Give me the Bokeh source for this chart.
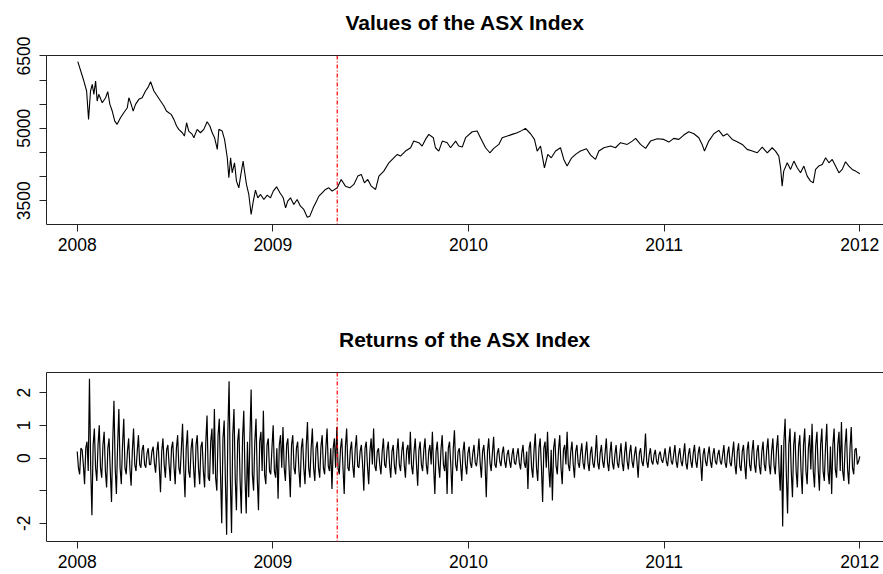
import numpy as np
from bokeh.plotting import figure
from bokeh.models import FixedTicker, Span, LinearAxis, Range1d
from bokeh.layouts import column
from bokeh.embed import file_html
from bokeh.resources import INLINE

# ---------------- data ----------------
value_years = [
    2008.003, 2008.034, 2008.048, 2008.058, 2008.068, 2008.077, 2008.085, 2008.094, 2008.102, 2008.110,
    2008.128, 2008.145, 2008.156, 2008.167, 2008.179, 2008.192, 2008.204, 2008.221, 2008.238, 2008.256,
    2008.264, 2008.276, 2008.286, 2008.298, 2008.315, 2008.332, 2008.349, 2008.361, 2008.375, 2008.392,
    2008.409, 2008.426, 2008.443, 2008.456, 2008.468, 2008.480, 2008.494, 2008.508, 2008.519, 2008.537,
    2008.548, 2008.559, 2008.570, 2008.588, 2008.596, 2008.613, 2008.630, 2008.647, 2008.664, 2008.678,
    2008.690, 2008.702, 2008.716, 2008.724, 2008.741, 2008.753, 2008.767, 2008.775, 2008.784, 2008.792,
    2008.804, 2008.814, 2008.826, 2008.835, 2008.848, 2008.855, 2008.865, 2008.877, 2008.889, 2008.900,
    2008.911, 2008.923, 2008.937, 2008.954, 2008.971, 2008.988, 2009.002, 2009.019, 2009.036, 2009.053,
    2009.065, 2009.076, 2009.090, 2009.107, 2009.124, 2009.141, 2009.158, 2009.176, 2009.189, 2009.206,
    2009.223, 2009.235, 2009.252, 2009.269, 2009.286, 2009.303, 2009.329, 2009.349, 2009.371, 2009.393,
    2009.414, 2009.434, 2009.452, 2009.468, 2009.485, 2009.503, 2009.525, 2009.542, 2009.567, 2009.593,
    2009.618, 2009.636, 2009.652, 2009.678, 2009.704, 2009.720, 2009.746, 2009.763, 2009.780, 2009.797,
    2009.820, 2009.831, 2009.848, 2009.866, 2009.891, 2009.908, 2009.934, 2009.950, 2009.968, 2009.985,
    2010.019, 2010.044, 2010.061, 2010.087, 2010.109, 2010.129, 2010.155, 2010.172, 2010.198, 2010.223,
    2010.249, 2010.274, 2010.291, 2010.317, 2010.337, 2010.351, 2010.368, 2010.388, 2010.405, 2010.423,
    2010.445, 2010.470, 2010.487, 2010.504, 2010.525, 2010.547, 2010.572, 2010.603, 2010.624, 2010.649,
    2010.666, 2010.692, 2010.726, 2010.751, 2010.777, 2010.811, 2010.837, 2010.854, 2010.879, 2010.905,
    2010.930, 2010.965, 2010.998, 2011.024, 2011.049, 2011.075, 2011.100, 2011.126, 2011.152, 2011.177,
    2011.194, 2011.206, 2011.228, 2011.254, 2011.279, 2011.302, 2011.322, 2011.348, 2011.373, 2011.399,
    2011.424, 2011.450, 2011.476, 2011.501, 2011.527, 2011.552, 2011.569, 2011.586, 2011.595, 2011.603,
    2011.611, 2011.629, 2011.646, 2011.663, 2011.680, 2011.697, 2011.714, 2011.731, 2011.748, 2011.762,
    2011.774, 2011.790, 2011.808, 2011.825, 2011.842, 2011.859, 2011.876, 2011.893, 2011.910, 2011.927,
    2011.944, 2011.961, 2011.978, 2012.000,
]
value_levels = [
    6382, 5981, 5774, 5186, 5774, 5913, 5705, 5981, 5566, 5705,
    5531, 5635, 5760, 5498, 5359, 5151, 5083, 5220, 5324, 5428,
    5635, 5498, 5359, 5498, 5601, 5635, 5774, 5843, 5967, 5774,
    5670, 5566, 5463, 5359, 5324, 5290, 5186, 5048, 4979, 4909,
    4840, 5116, 4944, 4875, 4806, 4979, 4909, 4979, 5137, 5048,
    4909, 4806, 4564, 4979, 4944, 4771, 4390, 3975, 4390, 4079,
    4286, 3906, 3767, 4010, 4321, 4114, 3838, 3630, 3215, 3491,
    3720, 3560, 3630, 3526, 3616, 3560, 3699, 3788, 3664, 3560,
    3352, 3491, 3560, 3422, 3526, 3387, 3319, 3159, 3180, 3352,
    3491, 3595, 3664, 3733, 3767, 3699, 3767, 3941, 3802, 3767,
    3838, 4010, 4045, 3871, 3941, 3802, 3733, 4010, 4114, 4286,
    4390, 4460, 4425, 4529, 4598, 4736, 4702, 4633, 4771, 4875,
    4806, 4598, 4529, 4736, 4702, 4598, 4736, 4633, 4612, 4806,
    4930, 4944, 4806, 4598, 4494, 4585, 4667, 4806, 4840, 4875,
    4909, 4958, 4999, 4888, 4771, 4529, 4633, 4182, 4460, 4390,
    4529, 4598, 4356, 4218, 4377, 4460, 4529, 4577, 4446, 4356,
    4529, 4598, 4633, 4598, 4702, 4667, 4736, 4792, 4667, 4585,
    4736, 4785, 4771, 4715, 4792, 4771, 4861, 4930, 4888, 4806,
    4667, 4529, 4736, 4888, 4958, 4840, 4888, 4771, 4722, 4667,
    4564, 4529, 4494, 4612, 4494, 4598, 4529, 4425, 4182, 3802,
    4114, 4286, 4149, 4321, 4182, 4079, 4218, 4010, 3906, 3871,
    4149, 4218, 4252, 4390, 4286, 4356, 4218, 4079, 4149, 4307,
    4218, 4149, 4114, 4058,
]

# returns in time order, 8 observations per twentieth of a year (2008 -> 2012)
return_values = [
    0.2, -0.3, -0.5, 0.3, 0.25, -0.2, -0.8, 0.3,
    0.5, -0.4, 2.43, -0.3, -1.75, 0.4, 0.9, -0.3,
    -0.7, 0.4, 1.0, -0.3, -0.6, 0.4, 0.8, -0.4,
    -0.9, 0.3, 0.6, -0.4, -1.35, 0.5, 1.75, -0.3,
    -1.1, 0.4, 1.5, -0.3, -0.8, 0.4, 1.2, -0.3,
    -0.5, 0.2, 0.6, -0.3, -0.85, 0.2, 0.9, -0.2,
    -0.4, 0.2, 0.7, -0.2, -0.3, 0.25, 0.4, -0.2,
    -0.3, 0.15, 0.3, -0.2, -0.2, 0.2, 0.35, -0.15,
    -0.45, 0.2, 0.5, -0.25, -1.05, 0.2, 0.6, -0.2,
    -0.6, 0.25, 0.4, -0.2, -0.7, 0.3, 0.5, -0.25,
    -0.8, 0.3, 0.7, -0.3, -0.5, 0.25, 1.05, -0.3,
    -1.2, 0.3, 0.85, -0.4, -0.6, 0.3, 0.6, -0.3,
    -0.9, 0.4, 0.7, -0.3, -0.8, 0.35, 0.5, -0.4,
    -0.9, 0.5, 1.3, -0.6, -0.7, 0.5, 0.9, -0.5,
    1.5, -0.6, -1.0, 0.7, 1.2, -0.5, -2.0, 0.6,
    1.15, -0.7, -2.35, 0.8, 2.35, -0.6, -2.3, 0.7,
    1.5, -0.6, -1.6, 0.5, 0.9, -0.7, -1.7, 0.6,
    1.45, -0.6, -1.7, 0.5, -1.2, 0.6, 2.1, -0.5,
    -1.0, 0.5, 1.2, -0.6, -1.6, 0.5, 0.8, -0.4,
    1.45, -0.5, -0.8, 0.4, 0.6, -0.4, -0.5, 0.3,
    1.0, -0.4, -0.6, 0.3, -1.25, 0.4, 0.7, -0.3,
    0.95, -0.3, -0.7, 0.4, 0.6, -0.3, -1.2, 0.4,
    0.7, -0.3, -0.5, 0.3, 0.5, -0.35, -0.9, 0.3,
    0.6, -0.3, -0.8, 0.35, 1.1, -0.3, -0.6, 0.3,
    0.9, -0.3, -0.7, 0.3, 0.5, -0.3, -0.6, 0.35,
    0.7, -0.3, -0.5, 0.3, 0.9, -0.25, -0.4, 0.3,
    -0.95, 0.3, 0.6, -0.3, 0.95, -0.3, -0.5, 0.3,
    0.6, -0.3, -1.1, 0.35, 0.9, -0.3, -0.4, 0.25,
    0.5, -0.25, -0.6, 0.3, 0.7, -0.25, -0.3, 0.2,
    0.4, -0.2, -1.0, 0.3, 0.5, -0.25, -0.8, 0.2,
    0.6, -0.2, 0.9, -0.25, -0.4, 0.2, 0.3, -0.2,
    -0.5, 0.2, 0.6, -0.2, -0.3, 0.25, 0.5, -0.2,
    -0.6, 0.2, 0.4, -0.25, -0.5, 0.2, 0.6, -0.2,
    -0.4, 0.2, 0.5, -0.2, -0.6, 0.25, 0.4, -0.2,
    0.8, -0.25, -0.5, 0.2, 0.6, -0.2, -0.85, 0.25,
    0.5, -0.2, -0.4, 0.25, 0.6, -0.2, -0.5, 0.2,
    0.4, -0.2, 0.8, -0.25, -1.1, 0.2, 0.5, -0.2,
    -0.6, 0.25, 0.7, -0.2, -0.4, 0.2, -1.1, 0.3,
    0.5, -0.2, -1.1, 0.25, 0.85, -0.2, -0.4, 0.2,
    0.3, -0.2, -0.7, 0.2, 0.5, -0.2, -0.5, 0.15,
    0.35, -0.15, -0.3, 0.15, 0.4, -0.15, -0.25, 0.1,
    0.6, -0.15, -0.6, 0.2, 0.4, -0.15, -1.2, 0.2,
    0.6, -0.15, -0.4, 0.15, 0.65, -0.2, -0.3, 0.15,
    0.3, -0.1, -0.25, 0.15, 0.35, -0.1, -0.3, 0.1,
    0.25, -0.1, -0.3, 0.1, 0.3, -0.15, -0.2, 0.1,
    0.3, -0.15, -0.35, 0.15, 0.4, -0.15, -0.3, 0.2,
    -0.95, 0.3, 0.5, -0.3, -0.6, 0.25, 0.75, -0.3,
    -0.7, 0.3, 0.6, -0.25, -1.35, 0.3, 0.5, -0.3,
    0.8, -0.3, -0.9, 0.25, -1.3, 0.3, 0.6, -0.25,
    -0.5, 0.25, 0.7, -0.3, -0.8, 0.25, 0.4, -0.2,
    0.8, -0.2, -0.4, 0.2, 0.5, -0.2, -0.6, 0.2,
    0.4, -0.15, -0.3, 0.15, 0.45, -0.15, -0.35, 0.15,
    0.5, -0.15, -0.4, 0.15, 0.35, -0.15, -0.3, 0.1,
    0.7, -0.15, -0.35, 0.15, 0.4, -0.1, -0.3, 0.15,
    0.6, -0.15, -0.4, 0.15, 0.5, -0.15, -0.35, 0.1,
    0.4, -0.15, -0.3, 0.1, 0.45, -0.15, -0.4, 0.15,
    0.5, -0.1, -0.35, 0.15, 0.4, -0.1, -0.3, 0.1,
    0.35, -0.1, -0.6, 0.15, 0.3, -0.1, -0.25, 0.1,
    0.75, -0.1, -0.3, 0.1, 0.3, -0.1, -0.2, 0.1,
    0.25, -0.1, -0.2, 0.1, 0.2, -0.05, -0.15, 0.05,
    0.3, -0.1, -0.25, 0.1, 0.35, -0.1, -0.2, 0.1,
    0.4, -0.1, -0.3, 0.1, 0.3, -0.1, -0.25, 0.1,
    0.45, -0.15, -0.35, 0.1, 0.3, -0.1, -0.3, 0.15,
    0.4, -0.1, -0.3, 0.15, 0.35, -0.1, -0.7, 0.1,
    0.3, -0.1, -0.25, 0.1, 0.35, -0.1, -0.3, 0.1,
    0.3, -0.1, -0.2, 0.1, 0.25, -0.1, -0.2, 0.1,
    0.4, -0.15, -0.3, 0.15, 0.35, -0.15, -0.25, 0.15,
    0.5, -0.2, -0.5, 0.2, 0.45, -0.25, -0.4, 0.2,
    0.4, -0.2, -0.65, 0.25, 0.5, -0.2, -0.4, 0.2,
    0.55, -0.2, -0.45, 0.2, 0.4, -0.25, -0.5, 0.2,
    0.5, -0.2, -0.4, 0.25, 0.6, -0.2, -0.5, 0.2,
    0.6, -0.25, -0.5, 0.3, 0.7, -0.3, -1.0, 0.4,
    -2.1, 0.5, 1.2, -0.5, -1.7, 0.4, 0.9, -0.4,
    -1.2, 0.4, 0.8, -0.4, -0.9, 0.35, 0.7, -0.4,
    -1.1, 0.4, 0.9, -0.4, -0.8, 0.3, 0.7, -0.35,
    1.05, -0.4, -0.9, 0.4, 0.8, -0.35, -1.0, 0.4,
    0.9, -0.4, -0.7, 0.35, 1.05, -0.4, -0.8, 0.35,
    -1.1, 0.4, 0.9, -0.35, -0.6, 0.4, 0.8, -0.4,
    1.1, -0.4, -0.7, 0.4, 0.9, -0.35, -0.8, 0.3,
    0.95, -0.3, -0.5, 0.25, 0.3, -0.2, -0.1, 0.05,
]
return_years = np.linspace(2008.0, 2012.0, len(return_values))

split_year = 2009.329  # date marked by the red dash-dot line

year_ticks = [2008, 2009, 2010, 2011, 2012]
value_ticks = [3500, 4000, 4500, 5000, 5500, 6000, 6500]
value_tick_labels = {3500: "3500", 4000: "", 4500: "", 5000: "5000", 5500: "", 6000: "", 6500: "6500"}
return_ticks = [-2, -1, 0, 1, 2]
return_tick_labels = {-2: "-2", -1: "", 0: "0", 1: "1", 2: "2"}

value_title = "Values of the ASX Index"
return_title = "Returns of the ASX Index"

# ---------------- styling ----------------
FONT = "Liberation Sans"
TICK_FONT = "17.5px"
AXIS_COLOR = "#222222"


def make_panel(title, height, border_top, border_bottom, y_start, y_end, y_ticks, y_labels):
    p = figure(width=883, height=height,
               x_range=Range1d(2007.843, 2012.121), y_range=Range1d(y_start, y_end),
               output_backend="svg", toolbar_location=None,
               min_border_left=46, min_border_right=0,
               min_border_top=border_top, min_border_bottom=border_bottom,
               background_fill_color="white", border_fill_color="white",
               outline_line_color=None)
    p.grid.visible = False

    xa = p.xaxis[0]
    xa.ticker = FixedTicker(ticks=year_ticks)
    xa.major_tick_out = 7
    xa.major_tick_in = 0
    xa.minor_tick_out = 0
    xa.minor_tick_in = 0
    xa.major_label_standoff = 6
    xa.major_label_text_font = FONT
    xa.major_label_text_font_size = TICK_FONT
    xa.major_label_text_color = "black"
    xa.axis_line_color = AXIS_COLOR
    xa.major_tick_line_color = AXIS_COLOR

    ya = p.yaxis[0]
    ya.ticker = FixedTicker(ticks=y_ticks)
    ya.major_label_overrides = y_labels
    ya.major_label_orientation = "vertical"
    ya.major_tick_out = 7
    ya.major_tick_in = 0
    ya.minor_tick_out = 0
    ya.minor_tick_in = 0
    ya.major_label_standoff = 9
    ya.major_label_text_font = FONT
    ya.major_label_text_font_size = TICK_FONT
    ya.major_label_text_color = "black"
    ya.axis_line_color = AXIS_COLOR
    ya.major_tick_line_color = AXIS_COLOR

    # top border of the plot box, carrying the panel title as its label
    top = LinearAxis(ticker=FixedTicker(ticks=[]), major_tick_out=0, major_tick_in=0,
                     minor_tick_out=0, minor_tick_in=0, major_label_standoff=0,
                     major_label_text_font_size="0px", axis_line_color=AXIS_COLOR,
                     axis_label=title, axis_label_standoff=22,
                     axis_label_text_font=FONT, axis_label_text_font_style="bold",
                     axis_label_text_font_size="21px", axis_label_text_color="black")
    p.add_layout(top, "above")

    p.add_layout(Span(location=split_year, dimension="height", line_color="#FF0000",
                      line_width=1.2, line_dash="4 2 1 2"))
    return p


p1 = make_panel(value_title, 297, 55, 73, 3007, 6510, value_ticks, value_tick_labels)
p1.line(value_years, value_levels, line_color="black", line_width=1.1)

p2 = make_panel(return_title, 277, 75, 33, -2.557, 2.619, return_ticks, return_tick_labels)
p2.line(return_years, return_values, line_color="black", line_width=1.2)

layout = column(p1, p2, spacing=0)
open("out.html", "w").write(file_html(layout, INLINE))
